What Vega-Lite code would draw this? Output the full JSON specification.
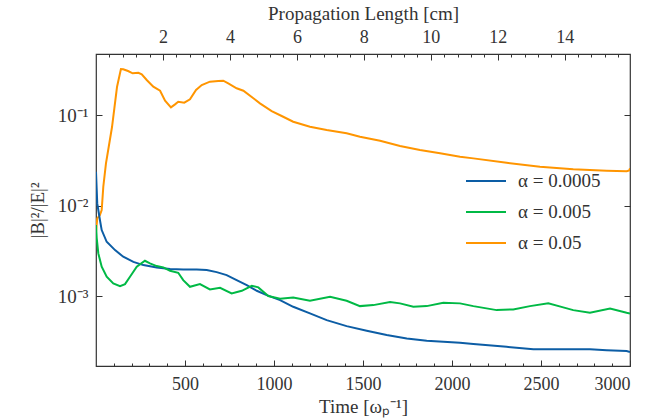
{
  "$schema": "https://vega.github.io/schema/vega-lite/v6.json",
  "width": 534,
  "height": 312,
  "autosize": "none",
  "padding": {"left": 96, "top": 54, "right": 32, "bottom": 53},
  "background": "white",
  "config": {
    "font": "Liberation Serif",
    "view": {"stroke": "#333333", "strokeWidth": 1.2},
    "axis": {
      "domain": false,
      "grid": false,
      "tickColor": "#333333",
      "labelColor": "#333333",
      "titleColor": "#333333",
      "labelFont": "Liberation Serif",
      "titleFont": "Liberation Serif",
      "labelFontSize": 18,
      "titleFontSize": 19,
      "titleFontWeight": "normal"
    },
    "text": {"font": "Liberation Serif"}
  },
  "datasets": {
    "lines": [
      {"t": 0, "v": 0.00513, "s": "α = 0.05"},
      {"t": 7, "v": 0.00722, "s": "α = 0.05"},
      {"t": 22, "v": 0.00785, "s": "α = 0.05"},
      {"t": 32, "v": 0.00892, "s": "α = 0.05"},
      {"t": 41, "v": 0.01614, "s": "α = 0.05"},
      {"t": 56, "v": 0.02926, "s": "α = 0.05"},
      {"t": 62, "v": 0.03436, "s": "α = 0.05"},
      {"t": 90, "v": 0.0737, "s": "α = 0.05"},
      {"t": 118, "v": 0.2037, "s": "α = 0.05"},
      {"t": 140, "v": 0.322, "s": "α = 0.05"},
      {"t": 153, "v": 0.320, "s": "α = 0.05"},
      {"t": 180, "v": 0.306, "s": "α = 0.05"},
      {"t": 206, "v": 0.289, "s": "α = 0.05"},
      {"t": 238, "v": 0.293, "s": "α = 0.05"},
      {"t": 257, "v": 0.282, "s": "α = 0.05"},
      {"t": 285, "v": 0.244, "s": "α = 0.05"},
      {"t": 322, "v": 0.206, "s": "α = 0.05"},
      {"t": 360, "v": 0.1856, "s": "α = 0.05"},
      {"t": 388, "v": 0.144, "s": "α = 0.05"},
      {"t": 421, "v": 0.1216, "s": "α = 0.05"},
      {"t": 444, "v": 0.1312, "s": "α = 0.05"},
      {"t": 462, "v": 0.1403, "s": "α = 0.05"},
      {"t": 496, "v": 0.1368, "s": "α = 0.05"},
      {"t": 528, "v": 0.149, "s": "α = 0.05"},
      {"t": 562, "v": 0.189, "s": "α = 0.05"},
      {"t": 594, "v": 0.2146, "s": "α = 0.05"},
      {"t": 640, "v": 0.2334, "s": "α = 0.05"},
      {"t": 687, "v": 0.2375, "s": "α = 0.05"},
      {"t": 715, "v": 0.2393, "s": "α = 0.05"},
      {"t": 743, "v": 0.2239, "s": "α = 0.05"},
      {"t": 790, "v": 0.1972, "s": "α = 0.05"},
      {"t": 828, "v": 0.1856, "s": "α = 0.05"},
      {"t": 884, "v": 0.1529, "s": "α = 0.05"},
      {"t": 921, "v": 0.1346, "s": "α = 0.05"},
      {"t": 987, "v": 0.1107, "s": "α = 0.05"},
      {"t": 1043, "v": 0.0975, "s": "α = 0.05"},
      {"t": 1108, "v": 0.0843, "s": "α = 0.05"},
      {"t": 1202, "v": 0.0743, "s": "α = 0.05"},
      {"t": 1296, "v": 0.0683, "s": "α = 0.05"},
      {"t": 1408, "v": 0.0628, "s": "α = 0.05"},
      {"t": 1483, "v": 0.0576, "s": "α = 0.05"},
      {"t": 1596, "v": 0.052, "s": "α = 0.05"},
      {"t": 1708, "v": 0.0454, "s": "α = 0.05"},
      {"t": 1820, "v": 0.0411, "s": "α = 0.05"},
      {"t": 1933, "v": 0.0378, "s": "α = 0.05"},
      {"t": 2045, "v": 0.0346, "s": "α = 0.05"},
      {"t": 2120, "v": 0.0332, "s": "α = 0.05"},
      {"t": 2307, "v": 0.0297, "s": "α = 0.05"},
      {"t": 2494, "v": 0.0268, "s": "α = 0.05"},
      {"t": 2681, "v": 0.0251, "s": "α = 0.05"},
      {"t": 2869, "v": 0.0242, "s": "α = 0.05"},
      {"t": 2981, "v": 0.0239, "s": "α = 0.05"},
      {"t": 2996, "v": 0.0245, "s": "α = 0.05"},
      {"t": 3000, "v": 0.0258, "s": "α = 0.05"},

      {"t": 0, "v": 0.0236, "s": "α = 0.0005"},
      {"t": 7, "v": 0.01057, "s": "α = 0.0005"},
      {"t": 22, "v": 0.00692, "s": "α = 0.0005"},
      {"t": 32, "v": 0.00536, "s": "α = 0.0005"},
      {"t": 60, "v": 0.00398, "s": "α = 0.0005"},
      {"t": 107, "v": 0.00322, "s": "α = 0.0005"},
      {"t": 153, "v": 0.00272, "s": "α = 0.0005"},
      {"t": 210, "v": 0.00239, "s": "α = 0.0005"},
      {"t": 266, "v": 0.0022, "s": "α = 0.0005"},
      {"t": 341, "v": 0.002075, "s": "α = 0.0005"},
      {"t": 416, "v": 0.001987, "s": "α = 0.0005"},
      {"t": 490, "v": 0.001972, "s": "α = 0.0005"},
      {"t": 566, "v": 0.001972, "s": "α = 0.0005"},
      {"t": 622, "v": 0.001938, "s": "α = 0.0005"},
      {"t": 678, "v": 0.001841, "s": "α = 0.0005"},
      {"t": 734, "v": 0.001706, "s": "α = 0.0005"},
      {"t": 790, "v": 0.001502, "s": "α = 0.0005"},
      {"t": 847, "v": 0.001323, "s": "α = 0.0005"},
      {"t": 903, "v": 0.001145, "s": "α = 0.0005"},
      {"t": 959, "v": 0.001026, "s": "α = 0.0005"},
      {"t": 1034, "v": 0.000903, "s": "α = 0.0005"},
      {"t": 1108, "v": 0.000762, "s": "α = 0.0005"},
      {"t": 1202, "v": 0.000644, "s": "α = 0.0005"},
      {"t": 1296, "v": 0.000543, "s": "α = 0.0005"},
      {"t": 1408, "v": 0.000466, "s": "α = 0.0005"},
      {"t": 1521, "v": 0.000414, "s": "α = 0.0005"},
      {"t": 1633, "v": 0.000371, "s": "α = 0.0005"},
      {"t": 1746, "v": 0.000341, "s": "α = 0.0005"},
      {"t": 1858, "v": 0.000321, "s": "α = 0.0005"},
      {"t": 2045, "v": 0.000305, "s": "α = 0.0005"},
      {"t": 2120, "v": 0.000295, "s": "α = 0.0005"},
      {"t": 2307, "v": 0.000275, "s": "α = 0.0005"},
      {"t": 2457, "v": 0.000258, "s": "α = 0.0005"},
      {"t": 2588, "v": 0.000258, "s": "α = 0.0005"},
      {"t": 2775, "v": 0.000258, "s": "α = 0.0005"},
      {"t": 2869, "v": 0.000253, "s": "α = 0.0005"},
      {"t": 2981, "v": 0.000247, "s": "α = 0.0005"},
      {"t": 3000, "v": 0.000241, "s": "α = 0.0005"},

      {"t": 0, "v": 0.00609, "s": "α = 0.005"},
      {"t": 4, "v": 0.00437, "s": "α = 0.005"},
      {"t": 13, "v": 0.00296, "s": "α = 0.005"},
      {"t": 32, "v": 0.00211, "s": "α = 0.005"},
      {"t": 60, "v": 0.001635, "s": "α = 0.005"},
      {"t": 97, "v": 0.00138, "s": "α = 0.005"},
      {"t": 135, "v": 0.00129, "s": "α = 0.005"},
      {"t": 163, "v": 0.001358, "s": "α = 0.005"},
      {"t": 191, "v": 0.001635, "s": "α = 0.005"},
      {"t": 229, "v": 0.00211, "s": "α = 0.005"},
      {"t": 275, "v": 0.002455, "s": "α = 0.005"},
      {"t": 303, "v": 0.0023, "s": "α = 0.005"},
      {"t": 341, "v": 0.002145, "s": "α = 0.005"},
      {"t": 378, "v": 0.002075, "s": "α = 0.005"},
      {"t": 416, "v": 0.001905, "s": "α = 0.005"},
      {"t": 462, "v": 0.00181, "s": "α = 0.005"},
      {"t": 490, "v": 0.001502, "s": "α = 0.005"},
      {"t": 528, "v": 0.001267, "s": "α = 0.005"},
      {"t": 584, "v": 0.001358, "s": "α = 0.005"},
      {"t": 640, "v": 0.001186, "s": "α = 0.005"},
      {"t": 697, "v": 0.001235, "s": "α = 0.005"},
      {"t": 762, "v": 0.001071, "s": "α = 0.005"},
      {"t": 819, "v": 0.001145, "s": "α = 0.005"},
      {"t": 875, "v": 0.0013, "s": "α = 0.005"},
      {"t": 912, "v": 0.001248, "s": "α = 0.005"},
      {"t": 968, "v": 0.001, "s": "α = 0.005"},
      {"t": 1034, "v": 0.000933, "s": "α = 0.005"},
      {"t": 1108, "v": 0.000967, "s": "α = 0.005"},
      {"t": 1202, "v": 0.000887, "s": "α = 0.005"},
      {"t": 1315, "v": 0.000982, "s": "α = 0.005"},
      {"t": 1408, "v": 0.000887, "s": "α = 0.005"},
      {"t": 1483, "v": 0.000775, "s": "α = 0.005"},
      {"t": 1558, "v": 0.000795, "s": "α = 0.005"},
      {"t": 1652, "v": 0.000859, "s": "α = 0.005"},
      {"t": 1708, "v": 0.000831, "s": "α = 0.005"},
      {"t": 1783, "v": 0.000762, "s": "α = 0.005"},
      {"t": 1858, "v": 0.000775, "s": "α = 0.005"},
      {"t": 1951, "v": 0.000844, "s": "α = 0.005"},
      {"t": 2045, "v": 0.000831, "s": "α = 0.005"},
      {"t": 2120, "v": 0.000775, "s": "α = 0.005"},
      {"t": 2251, "v": 0.0007, "s": "α = 0.005"},
      {"t": 2344, "v": 0.000713, "s": "α = 0.005"},
      {"t": 2438, "v": 0.000775, "s": "α = 0.005"},
      {"t": 2541, "v": 0.000831, "s": "α = 0.005"},
      {"t": 2625, "v": 0.00075, "s": "α = 0.005"},
      {"t": 2681, "v": 0.0007, "s": "α = 0.005"},
      {"t": 2775, "v": 0.000654, "s": "α = 0.005"},
      {"t": 2888, "v": 0.000731, "s": "α = 0.005"},
      {"t": 2981, "v": 0.000654, "s": "α = 0.005"},
      {"t": 3000, "v": 0.000644, "s": "α = 0.005"}
    ],
    "top": [{"L": 0}, {"L": 15.95}]
  },
  "layer": [
    {
      "data": {"name": "lines"},
      "mark": {"type": "line", "strokeWidth": 2, "clip": true},
      "encoding": {
        "x": {
          "field": "t", "type": "quantitative",
          "scale": {"domain": [0, 3000], "nice": false, "zero": false},
          "axis": {
            "orient": "bottom",
            "values": [500, 1000, 1500, 2000, 2500, 3000],
            "format": "d",
            "labelFont": "Liberation Serif",
            "labelFontSize": 18,
            "tickSize": -6,
            "labelPadding": 15,
            "title": "Time [ωₚ⁻¹]",
            "titlePadding": 4
          }
        },
        "y": {
          "field": "v", "type": "quantitative",
          "scale": {"type": "log", "domain": [0.000169, 0.472], "nice": false},
          "axis": {
            "orient": "left",
            "values": [0.001, 0.01, 0.1],
            "labelExpr": "datum.value < 0.005 ? '10⁻³' : datum.value < 0.05 ? '10⁻²' : '10⁻¹'",
            "labelFont": "Liberation Serif",
            "labelFontSize": 19,
            "tickSize": -6,
            "labelPadding": 14,
            "title": "|B|²/|E|²",
            "titlePadding": 10
          }
        },
        "color": {
          "field": "s", "type": "nominal",
          "scale": {
            "domain": ["α = 0.0005", "α = 0.005", "α = 0.05"],
            "range": ["#0C5DA5", "#00B945", "#FF9500"]
          },
          "legend": {
            "orient": "none",
            "legendX": 369,
            "legendY": 106,
            "title": null,
            "symbolType": "stroke",
            "symbolSize": 1600,
            "symbolStrokeWidth": 2,
            "labelFontSize": 19,
            "labelFont": "Liberation Serif",
            "labelColor": "#333333",
            "labelOffset": 11,
            "rowPadding": -15.5,
            "padding": 0
          }
        }
      }
    },
    {
      "data": {"name": "lines"},
      "mark": {"type": "line", "opacity": 0},
      "encoding": {
        "x": {
          "field": "t", "type": "quantitative",
          "scale": {"domain": [0, 3000], "nice": false, "zero": false},
          "axis": {
            "orient": "bottom",
            "values": [100, 200, 300, 400, 600, 700, 800, 900, 1100, 1200, 1300, 1400, 1600, 1700, 1800, 1900, 2100, 2200, 2300, 2400, 2600, 2700, 2800, 2900],
            "tickSize": -3,
            "labels": false,
            "title": null
          }
        },
        "y": {
          "field": "v", "type": "quantitative",
          "axis": {
            "orient": "right",
            "values": [0.001, 0.01, 0.1],
            "tickSize": -6,
            "labels": false,
            "title": null
          }
        }
      }
    },
    {
      "data": {"name": "top"},
      "mark": {"type": "point", "opacity": 0},
      "encoding": {
        "x": {
          "field": "L", "type": "quantitative",
          "scale": {"domain": [0, 15.95], "nice": false, "zero": false},
          "axis": {
            "orient": "top",
            "values": [2, 4, 6, 8, 10, 12, 14],
            "format": "d",
            "labelFont": "Liberation Serif",
            "labelFontSize": 18,
            "tickSize": -6,
            "labelPadding": 14,
            "title": "Propagation Length [cm]",
            "titlePadding": 5
          }
        }
      }
    },
    {
      "data": {"name": "top"},
      "mark": {"type": "point", "opacity": 0},
      "encoding": {
        "x": {
          "field": "L", "type": "quantitative",
          "scale": {"domain": [0, 15.95], "nice": false, "zero": false},
          "axis": {
            "orient": "top",
            "values": [0.4, 0.8, 1.2, 1.6, 2.4, 2.8, 3.2, 3.6, 4.4, 4.8, 5.2, 5.6, 6.4, 6.8, 7.2, 7.6, 8.4, 8.8, 9.2, 9.6, 10.4, 10.8, 11.2, 11.6, 12.4, 12.8, 13.2, 13.6, 14.4, 14.8, 15.2, 15.6],
            "tickSize": -3,
            "labels": false,
            "title": null
          }
        }
      }
    }
  ],
  "resolve": {"scale": {"x": "independent"}, "axis": {"x": "independent", "y": "independent"}}
}
